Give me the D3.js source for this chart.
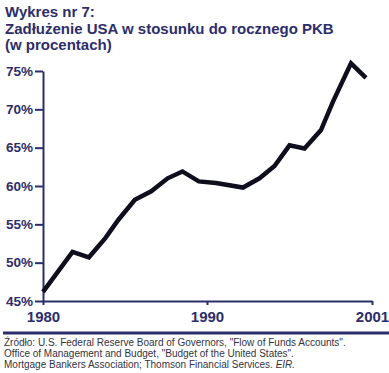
<!DOCTYPE html>
<html>
<head>
<meta charset="utf-8">
<script src="https://cdn.jsdelivr.net/npm/d3@7"></script>
<style>
  body { margin: 0; background: #fff; }
  svg { display: block; font-family: "Liberation Sans", Arial, sans-serif; }
</style>
</head>
<body>
<svg></svg>
<script>
// dane
const years = [1980.0, 1981.8, 1982.8, 1983.8, 1984.6, 1985.6, 1986.6, 1987.6, 1988.5, 1989.5,
  1990.6, 1992.4, 1993.5, 1994.5, 1995.5, 1996.5, 1997.6, 1998.4, 1999.6, 2000.6];
const debtPct = [46.2, 51.4, 50.7, 53.2, 55.6, 58.2, 59.3, 61.0, 61.9, 60.6,
  60.4, 59.8, 61.0, 62.6, 65.3, 64.9, 67.3, 71.0, 76.0, 74.1];
const yTicks = [45, 50, 55, 60, 65, 70, 75];
const xTicks = [1980, 1990, 2001];
const titleLines = ["Wykres nr 7:", "Zadłużenie USA w stosunku do rocznego PKB", "(w procentach)"];

const width = 389;
const height = 373;
const navy = "#2d2d6b";

const svg = d3.select("svg").attr("width", width).attr("height", height);

const data = years.map((y, i) => ({ year: y, value: debtPct[i] }));

// skala x nie jest równomierna na oryginale (1990 przesunięte w prawo)
const xScale = d3.scaleLinear().domain([1980, 1990, 2001]).range([43, 207, 372]);
const yScale = d3.scaleLinear().domain([45, 75]).range([301, 71]);

// tytuł
svg.append("g")
  .selectAll("text")
  .data(titleLines)
  .join("text")
  .attr("x", 5)
  .attr("y", (d, i) => 17 + i * 16.5)
  .attr("fill", navy)
  .attr("font-size", 15)
  .attr("font-weight", "bold")
  .text((d) => d);

// oś y
const yAxisG = svg.append("g").attr("transform", "translate(43,0)");
yAxisG.call(d3.axisLeft(yScale).tickValues(yTicks).tickFormat((d) => d + "%").tickSize(8).tickSizeOuter(0).tickPadding(2));
yAxisG.select(".domain").attr("stroke", navy).attr("stroke-width", 2);
yAxisG.selectAll(".tick line").attr("stroke", navy).attr("stroke-width", 2);
yAxisG.selectAll(".tick text")
  .attr("fill", navy)
  .attr("font-size", 13.5)
  .attr("font-weight", "bold")
  .attr("font-family", "Liberation Sans, Arial, sans-serif");

// oś x
const xAxisG = svg.append("g").attr("transform", "translate(0,301)");
xAxisG.call(d3.axisBottom(xScale).tickValues(xTicks).tickFormat(d3.format("d")).tickSize(4).tickSizeOuter(0).tickPadding(6));
xAxisG.select(".domain").attr("stroke", navy).attr("stroke-width", 2);
xAxisG.selectAll(".tick line").attr("stroke", navy).attr("stroke-width", 2);
xAxisG.selectAll(".tick text")
  .attr("fill", navy)
  .attr("font-size", 15)
  .attr("font-weight", "bold")
  .attr("font-family", "Liberation Sans, Arial, sans-serif");

// linia
const line = d3.line()
  .x((d) => xScale(d.year))
  .y((d) => yScale(d.value));

svg.append("path")
  .attr("d", line(data))
  .attr("fill", "none")
  .attr("stroke", "#0e0e1c")
  .attr("stroke-width", 4.5)
  .attr("stroke-linejoin", "miter");

// separator i źródło
svg.append("line")
  .attr("x1", 3).attr("x2", 389)
  .attr("y1", 333).attr("y2", 333)
  .attr("stroke", navy)
  .attr("stroke-width", 3);

const src = svg.append("g")
  .attr("fill", "#333344")
  .attr("font-size", 10);

src.append("text").attr("x", 4).attr("y", 346)
  .text("Źródło: U.S. Federal Reserve Board of Governors, \"Flow of Funds Accounts\".");
src.append("text").attr("x", 4).attr("y", 357)
  .text("Office of Management and Budget, \"Budget of the United States\".");
const last = src.append("text").attr("x", 4).attr("y", 368)
  .text("Mortgage Bankers Association; Thomson Financial Services. ");
last.append("tspan").attr("font-style", "italic").text("EIR.");
</script>
</body>
</html>
